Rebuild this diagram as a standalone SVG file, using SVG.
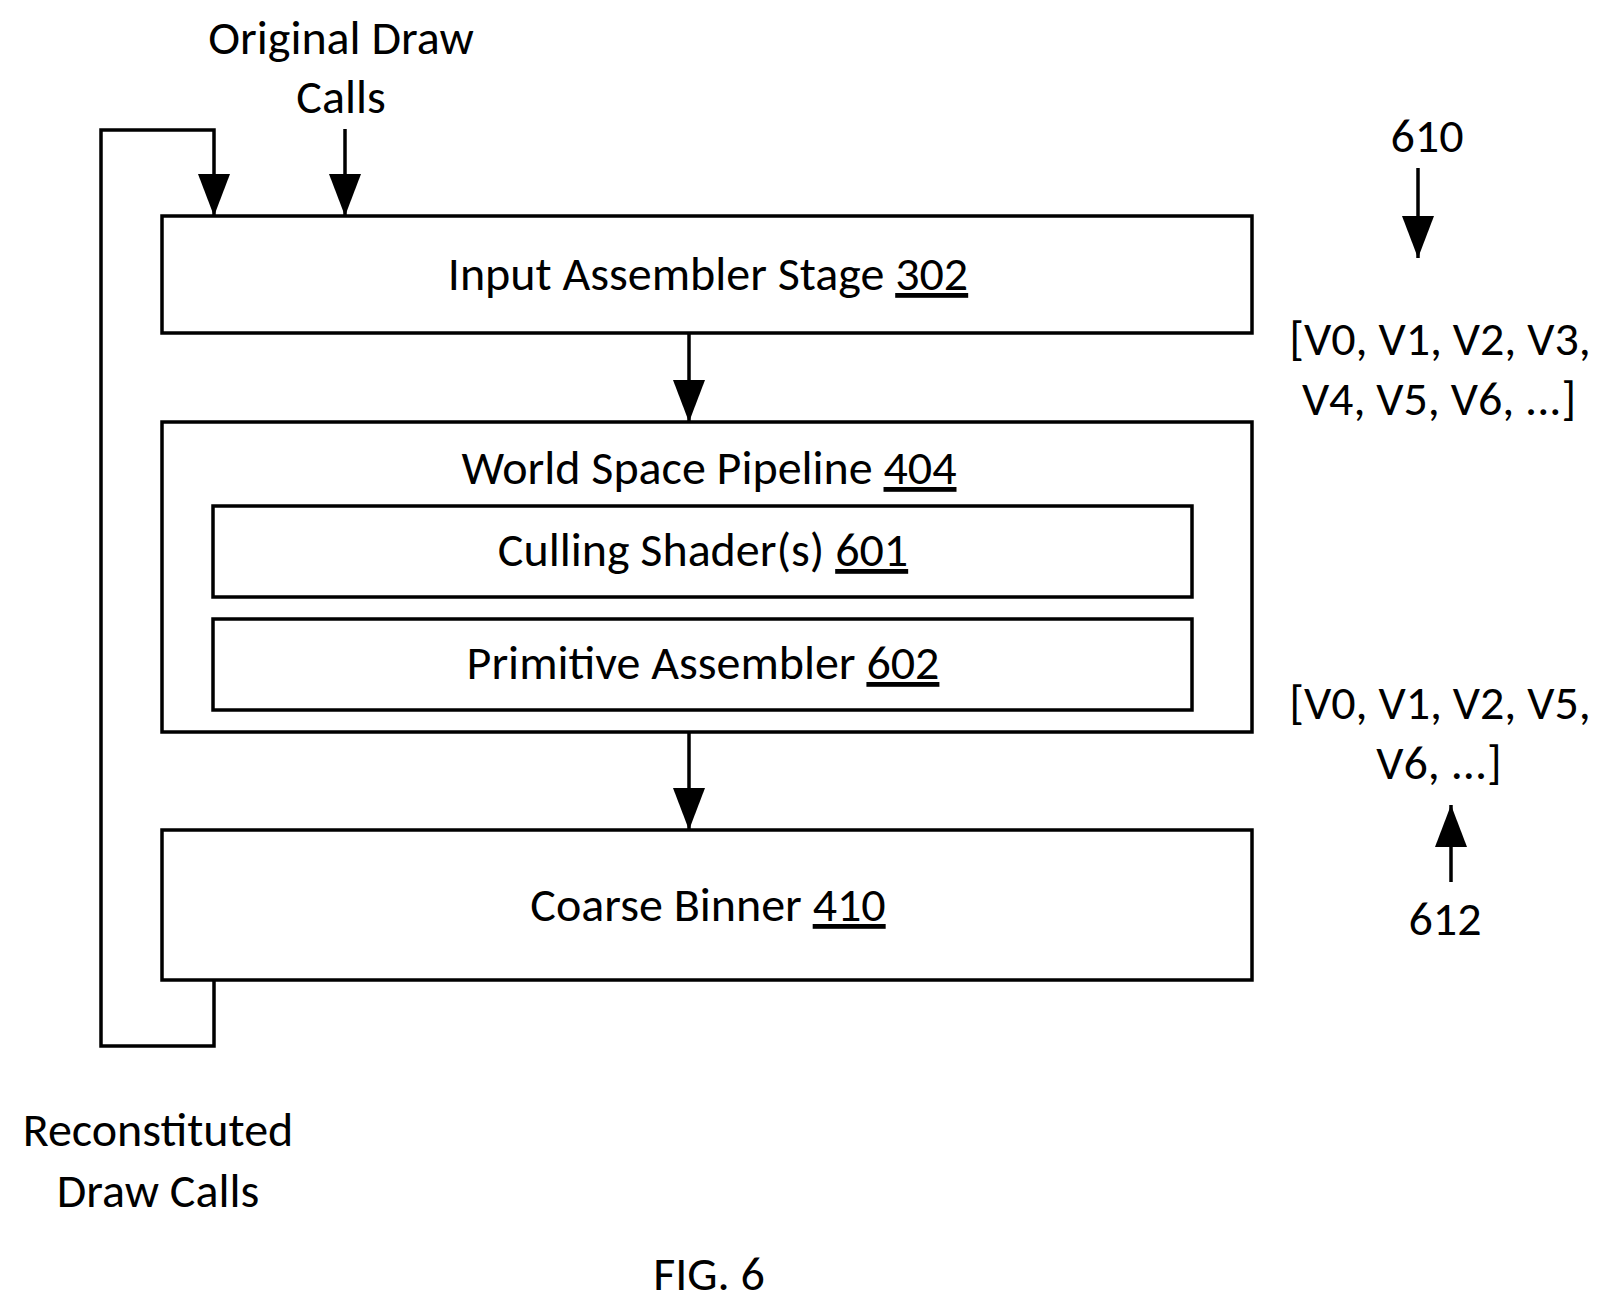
<svg xmlns="http://www.w3.org/2000/svg" width="1611" height="1306" viewBox="0 0 1611 1306">
<style>
.b{fill:#fff;stroke:#000;stroke-width:3.5}
.c{fill:none;stroke:#000;stroke-width:3.5}
text{font-family:Carlito,"Open Sans","Liberation Sans",sans-serif;font-size:48px;text-anchor:middle;fill:#000}
.u{text-decoration:underline}
</style>
<defs>
<marker id="d" markerUnits="userSpaceOnUse" markerWidth="42" markerHeight="32" refX="42" refY="16" orient="auto" viewBox="0 0 42 32"><path d="M0,0 L42,16 L0,32 Z" fill="#000"/></marker></defs>
<rect width="1611" height="1306" fill="#fff"/>
<g id="n302"><rect class="b" x="162" y="216" width="1090" height="117"/><text x="708" y="290">Input Assembler Stage <tspan class="u">302</tspan></text></g>
<g id="n404"><rect class="b" x="162" y="422" width="1090" height="310"/><text x="709" y="484">World Space Pipeline <tspan class="u">404</tspan></text></g>
<g id="n601"><rect class="b" x="213" y="506" width="979" height="91"/><text x="703" y="566">Culling Shader(s) <tspan class="u">601</tspan></text></g>
<g id="n602"><rect class="b" x="213" y="619" width="979" height="91"/><text x="703" y="679">Primitive Assembler <tspan class="u">602</tspan></text></g>
<g id="n410"><rect class="b" x="162" y="830" width="1090" height="150"/><text x="708" y="921">Coarse Binner <tspan class="u">410</tspan></text></g>
<g id="connectors">
<path class="c" d="M214,980 V1046 H101 V130 H214 V216" marker-end="url(#d)"/>
<path class="c" d="M345,129 V216" marker-end="url(#d)"/>
<path class="c" d="M689,333 V422" marker-end="url(#d)"/>
<path class="c" d="M689,732 V830" marker-end="url(#d)"/>
<path class="c" d="M1418,168 V258" marker-end="url(#d)"/>
<path class="c" d="M1451,882 V805" marker-end="url(#d)"/>
</g>
<g id="labels">
<text x="341" y="54">Original Draw</text><text x="341" y="113">Calls</text>
<text x="1427" y="152">610</text>
<text x="1440" y="355">[V0, V1, V2, V3,</text><text x="1439" y="415">V4, V5, V6, ...]</text>
<text x="1440" y="719">[V0, V1, V2, V5,</text><text x="1439" y="779">V6, ...]</text>
<text x="1445" y="935">612</text>
<text x="158" y="1146">Reconstituted</text><text x="158" y="1207">Draw Calls</text>
<text x="709" y="1290">FIG. 6</text>
</g>
</svg>
